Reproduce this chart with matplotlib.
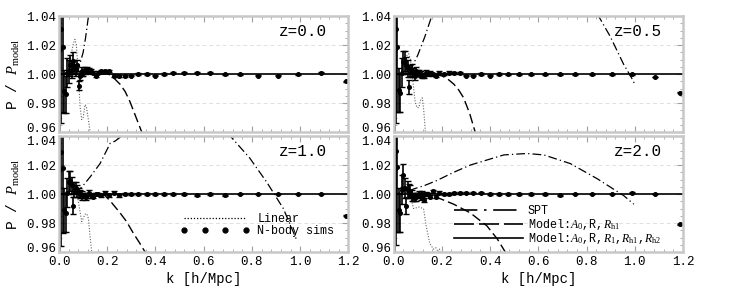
import matplotlib
matplotlib.use("Agg")
import matplotlib.pyplot as plt
from matplotlib.lines import Line2D
from matplotlib.ticker import MultipleLocator

plt.rcParams["font.family"] = ["Liberation Mono", "DejaVu Sans Mono"]
plt.rcParams["mathtext.fontset"] = "custom"
plt.rcParams["mathtext.rm"] = "Liberation Serif"
plt.rcParams["mathtext.it"] = "Liberation Serif:italic"

# N-body sims: k values and P/P_model ratio for each redshift
k_sim = [0.004, 0.010, 0.016, 0.022, 0.028, 0.034, 0.040, 0.046, 0.052, 0.058,
         0.064, 0.070, 0.076, 0.082, 0.088, 0.094, 0.100, 0.106, 0.112, 0.118,
         0.125, 0.133, 0.142, 0.152, 0.163, 0.175, 0.190, 0.208,
         0.228, 0.249, 0.274, 0.299, 0.329, 0.364, 0.398, 0.436, 0.474, 0.520,
         0.571, 0.626, 0.689, 0.751, 0.824, 0.906, 0.990, 1.085, 1.189]
err_sim = [0.08, 0.065, 0.045, 0.015, 0.013, 0.010, 0.008, 0.007, 0.006, 0.006,
           0.005, 0.004, 0.004, 0.003, 0.003, 0.003, 0.002, 0.002, 0.002, 0.002,
           0.0015, 0.0015, 0.001, 0.001, 0.001, 0.001, 0.001, 0.0008,
           0.0008, 0.0007, 0.0007, 0.0006, 0.0006, 0.0005, 0.0005, 0.0005, 0.0004, 0.0004,
           0.0004, 0.0004, 0.0003, 0.0003, 0.0003, 0.0003, 0.0003, 0.0003, 0.0003]
ratio_z00 = [1.017, 1.031, 1.019, 0.988, 0.986, 1.001, 1.002, 1.006, 1.003, 1.009,
             1.005, 1.003, 1.006, 0.992, 0.999, 1.002, 1.001, 1.003, 1.002, 1.003,
             1.003, 1.002, 1.001, 0.999, 1.001, 1.002, 1.002, 1.002,
             0.999, 0.999, 0.999, 0.999, 1.000, 1.000, 0.999, 1.000, 1.001, 1.001,
             1.001, 1.001, 1.000, 1.000, 0.999, 0.999, 1.000, 1.001, 0.995]
ratio_z05 = [1.017, 1.031, 1.019, 0.989, 0.987, 1.001, 1.008, 1.009, 1.006, 1.004,
             0.991, 1.002, 1.003, 1.001, 0.999, 1.002, 1.001, 1.001, 1.000, 0.999,
             0.999, 1.001, 1.000, 1.001, 1.000, 0.999, 1.001, 1.000,
             1.001, 1.001, 1.001, 0.999, 0.999, 1.000, 0.999, 1.000, 1.000, 1.000,
             1.000, 1.000, 1.000, 1.000, 1.000, 1.000, 1.000, 0.998, 0.987]
ratio_z10 = [1.017, 1.029, 1.018, 0.989, 0.987, 1.001, 1.008, 1.009, 1.006, 0.992,
             1.003, 1.004, 1.002, 1.001, 1.000, 0.999, 0.999, 0.999, 0.998, 0.999,
             1.001, 0.999, 0.998, 1.000, 1.000, 0.999, 1.001, 0.999,
             1.001, 0.999, 1.000, 1.000, 1.000, 1.000, 1.000, 1.000, 1.000, 1.000,
             0.999, 1.000, 0.999, 1.000, 1.000, 1.000, 1.000, 1.000, 0.985]
ratio_z20 = [1.017, 1.030, 1.019, 0.989, 0.987, 1.003, 1.013, 1.004, 0.992, 1.003,
             1.002, 1.002, 0.999, 0.998, 0.998, 0.998, 0.999, 1.000, 0.998, 1.000,
             0.996, 1.000, 1.000, 0.998, 1.002, 0.998, 1.001, 1.000,
             1.000, 1.001, 1.001, 1.001, 1.001, 1.001, 1.000, 1.000, 1.000, 1.000,
             1.000, 1.000, 0.999, 1.000, 1.000, 1.000, 1.001, 1.000, 0.979]

# SPT curves
k_spt_z00 = [0.0, 0.05, 0.08, 0.10, 0.11, 0.122, 0.14]
spt_z00 = [1.0, 1.001, 1.003, 1.015, 1.025, 1.040, 1.06]
k_spt_z05 = [0.0, 0.05, 0.07, 0.10, 0.13, 0.16, 0.20, 0.50, 0.80, 0.843, 0.898, 0.953, 0.988, 1.0]
spt_z05 = [1.0, 1.0, 1.003, 1.013, 1.026, 1.041, 1.06, 1.20, 1.06, 1.042, 1.026, 1.007, 0.997, 0.993]
k_spt_z10 = [0.0, 0.06, 0.094, 0.129, 0.17, 0.212, 0.232, 0.26, 0.30, 0.50, 0.68, 0.71, 0.79, 0.862, 0.93, 0.986]
spt_z10 = [1.0, 1.0, 1.0047, 1.0118, 1.021, 1.035, 1.0365, 1.040, 1.05, 1.10, 1.046, 1.040, 1.025, 1.008, 0.990, 0.968]
k_spt_z20 = [0.0, 0.05, 0.083, 0.13, 0.18, 0.249, 0.318, 0.387, 0.457, 0.553, 0.623, 0.733, 0.844, 0.955, 0.996]
spt_z20 = [1.0, 1.001, 1.0035, 1.006, 1.0094, 1.015, 1.020, 1.0235, 1.027, 1.028, 1.027, 1.021, 1.0106, 0.9988, 0.993]

# Model: A0, R, Rh1 curves
k_m1_z00 = [0.0, 0.15, 0.20, 0.212, 0.232, 0.253, 0.274, 0.294, 0.315, 0.343, 0.36]
m1_z00 = [1.0, 1.0, 1.0, 0.9995, 0.9965, 0.993, 0.988, 0.981, 0.972, 0.960, 0.952]
k_m1_z05 = [0.0, 0.15, 0.20, 0.225, 0.25, 0.27, 0.29, 0.315, 0.34, 0.36]
m1_z05 = [1.0, 1.0, 0.9988, 0.9965, 0.993, 0.989, 0.9837, 0.973, 0.959, 0.950]
k_m1_z10 = [0.0, 0.15, 0.19, 0.212, 0.253, 0.28, 0.308, 0.335, 0.364, 0.38]
m1_z10 = [1.0, 1.0, 0.999, 0.9953, 0.987, 0.981, 0.973, 0.966, 0.958, 0.952]
k_m1_z20 = [0.0, 0.13, 0.18, 0.249, 0.318, 0.387, 0.43, 0.463, 0.48]
m1_z20 = [1.0, 0.9995, 0.9977, 0.993, 0.987, 0.978, 0.969, 0.960, 0.955]

# Linear theory curves
k_lin_z00 = [0.0, 0.02, 0.035, 0.045, 0.052, 0.059, 0.066, 0.072, 0.080, 0.087, 0.094, 0.100, 0.108, 0.114, 0.122, 0.129, 0.135]
lin_z00 = [1.0, 1.0, 1.002, 1.008, 1.015, 1.021, 1.024, 1.020, 1.000, 0.978, 0.9686, 0.970, 0.979, 0.977, 0.968, 0.960, 0.952]
k_lin_z05 = [0.0, 0.03, 0.045, 0.056, 0.063, 0.070, 0.080, 0.090, 0.098, 0.105, 0.112, 0.119, 0.125, 0.132, 0.14]
lin_z05 = [1.0, 1.001, 1.007, 1.013, 1.014, 1.010, 0.995, 0.980, 0.9767, 0.977, 0.982, 0.9836, 0.975, 0.960, 0.950]
k_lin_z10 = [0.0, 0.04, 0.06, 0.07, 0.08, 0.087, 0.094, 0.108, 0.115, 0.122, 0.128, 0.135, 0.14]
lin_z10 = [1.0, 1.002, 1.004, 1.002, 0.995, 0.988, 0.981, 0.986, 0.9865, 0.983, 0.972, 0.961, 0.952]
k_lin_z20 = [0.0, 0.04, 0.06, 0.07, 0.083, 0.105, 0.124, 0.135, 0.15, 0.165, 0.175, 0.185, 0.19, 0.20, 0.21]
lin_z20 = [1.0, 1.002, 1.004, 0.998, 0.990, 0.991, 0.990, 0.978, 0.966, 0.962, 0.963, 0.960, 0.962, 0.958, 0.950]

panels = [
    ("z=0.0", ratio_z00, k_spt_z00, spt_z00, k_m1_z00, m1_z00, k_lin_z00, lin_z00),
    ("z=0.5", ratio_z05, k_spt_z05, spt_z05, k_m1_z05, m1_z05, k_lin_z05, lin_z05),
    ("z=1.0", ratio_z10, k_spt_z10, spt_z10, k_m1_z10, m1_z10, k_lin_z10, lin_z10),
    ("z=2.0", ratio_z20, k_spt_z20, spt_z20, k_m1_z20, m1_z20, k_lin_z20, lin_z20),
]

fig, axes = plt.subplots(2, 2, figsize=(7.5, 2.88), dpi=100)
fig.subplots_adjust(left=0.0787, right=0.9107, bottom=0.125, top=0.944,
                    wspace=0.156, hspace=0.035)

frame = "#c8c8c8"
for i, ax in enumerate(axes.flat):
    label, ratio, ks, spt, km, m1, kl, lin = panels[i]
    ax.plot(kl, lin, color="0.4", lw=0.8, ls=(0, (1, 1.5)))
    ax.plot(km, m1, color="k", lw=1.0, ls=(0, (7, 3)))
    ax.plot(ks, spt, color="k", lw=0.9, ls=(0, (7, 2.5, 1, 2.5)))
    ax.axhline(1.0, color="k", lw=1.2)
    ax.errorbar(k_sim, ratio, yerr=err_sim, fmt="o", color="k", ms=2.6,
                elinewidth=1.2, capsize=2, capthick=1)
    ax.text(0.927, 0.87, label, transform=ax.transAxes, ha="right", va="center",
            fontsize=11.5)

    ax.set_xlim(0, 1.2)
    ax.set_ylim(0.96, 1.04)
    ax.xaxis.set_major_locator(MultipleLocator(0.2))
    ax.xaxis.set_minor_locator(MultipleLocator(0.04))
    ax.yaxis.set_major_locator(MultipleLocator(0.02))
    ax.yaxis.set_minor_locator(MultipleLocator(0.005))
    ax.yaxis.set_major_formatter(plt.FormatStrFormatter("%.2f"))
    ax.xaxis.set_major_formatter(plt.FormatStrFormatter("%.1f"))
    ax.grid(axis="y", which="major", color="#e0e0e0", ls=(0, (4, 3)), lw=0.7)
    ax.tick_params(which="both", direction="in", top=True, right=True,
                   color="#a0a0a0", labelsize=9, pad=2)
    ax.tick_params(axis="x", pad=3)
    ax.tick_params(which="major", length=4, width=0.8)
    ax.tick_params(which="minor", length=2, width=0.6)
    for s in ax.spines.values():
        s.set_color(frame)
        s.set_linewidth(1.8)
    if i < 2:
        ax.tick_params(labelbottom=False)
    else:
        ax.set_xlabel("k [h/Mpc]", fontsize=10, labelpad=3)
    if i % 2 == 0:
        ax.set_ylabel(r"P / $P_{\rm model}$", fontsize=10.5, labelpad=3)

fig.canvas.draw()
# lift the 0.96 labels and drop the lower 1.04 labels so they do not collide
for i, ax in enumerate(axes.flat):
    for t in ax.yaxis.get_major_ticks():
        v = t.get_loc()
        if abs(v - 0.96) < 1e-6:
            t.label1.set_verticalalignment("baseline")
        if i >= 2 and abs(v - 1.04) < 1e-6:
            t.label1.set_verticalalignment("top")

# legends
h_lin = Line2D([], [], color="k", lw=0.9, ls=(0, (1, 1.5)))
h_sim = Line2D([], [], color="k", marker="o", ms=3.5, ls="none")
axes[1, 0].legend([h_lin, h_sim], ["Linear", "N-body sims"], loc="lower left",
                  bbox_to_anchor=(0.40, 0.08), frameon=False, fontsize=8.5,
                  handlelength=5.8, handletextpad=0.7, labelspacing=0.0,
                  borderpad=0, numpoints=4)

h_spt = Line2D([], [], color="k", lw=1.2, ls=(0, (14, 4, 1.5, 4)))
h_m1 = Line2D([], [], color="k", lw=1.2, ls=(0, (12, 3)))
h_m2 = Line2D([], [], color="k", lw=1.2)
axes[1, 1].legend([h_spt, h_m1, h_m2],
                  ["SPT", r"Model:$A_0$,R,$R_{\rm h1}$",
                   r"Model:$A_0$,R,$R_1$,$R_{\rm h1}$,$R_{\rm h2}$"],
                  loc="lower left", bbox_to_anchor=(0.19, 0.0), frameon=False,
                  fontsize=8.5, handlelength=5.8, handletextpad=0.4,
                  labelspacing=-0.05, borderpad=0)

fig.savefig("out.png", dpi=100)
